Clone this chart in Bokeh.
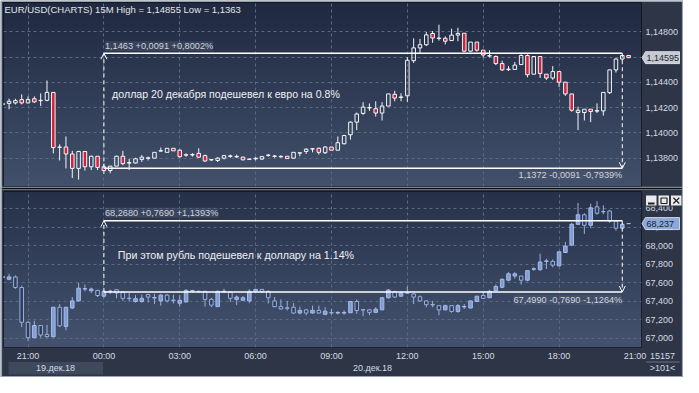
import numpy as np
from bokeh.plotting import figure
from bokeh.models import Range1d, FixedTicker, Label, Arrow, OpenHead, Grid, ColumnDataSource, GridBox
from bokeh.embed import file_html
from bokeh.resources import INLINE

# ---------------- data ----------------
bar_index = list(range(100))          # 15-minute bars, 0 = 19.12 20:00
time_ticks = [4, 16, 28, 40, 52, 64, 76, 88, 100]
time_labels = ["21:00", "00:00", "03:00", "06:00", "09:00", "12:00", "15:00", "18:00", "21:00"]
grid_ticks = [4, 16, 28, 40, 52, 64, 76, 88]
date_labels = ["19.дек.18", "20.дек.18"]

eur_ticks = [1.138, 1.140, 1.142, 1.144, 1.146, 1.148]
eur_tick_labels = ["1,13800", "1,14000", "1,14200", "1,14400", "1,14600", "1,14800"]
rub_ticks = [67.0, 67.2, 67.4, 67.6, 67.8, 68.0, 68.2, 68.4]
rub_tick_labels = ["67,000", "67,200", "67,400", "67,600", "67,800", "68,000", "68,200", "68,400"]

eur_open = [1.14225, 1.14233, 1.14237, 1.14263, 1.14237, 1.14270, 1.14255, 1.14257, 1.14320, 1.13886,
            1.13888, 1.13833, 1.13719, 1.13853, 1.13732, 1.13815, 1.13732, 1.13702, 1.13737, 1.13815,
            1.13765, 1.13762, 1.13790, 1.13799, 1.13800, 1.13856, 1.13846, 1.13878, 1.13863, 1.13827,
            1.13825, 1.13838, 1.13820, 1.13789, 1.13782, 1.13800, 1.13814, 1.13814, 1.13808, 1.13793,
            1.13795, 1.13793, 1.13822, 1.13817, 1.13814, 1.13815, 1.13800, 1.13840, 1.13853, 1.13872,
            1.13878, 1.13843, 1.13888, 1.13863, 1.13914, 1.13985, 1.14085, 1.14154, 1.14197, 1.14191,
            1.14157, 1.14212, 1.14305, 1.14284, 1.14293, 1.14571, 1.14672, 1.14697, 1.14786, 1.14746,
            1.14748, 1.14730, 1.14773, 1.14788, 1.14646, 1.14718, 1.14654, 1.14611, 1.14604, 1.14548,
            1.14504, 1.14502, 1.14540, 1.14612, 1.14464, 1.14604, 1.14464, 1.14434, 1.14485, 1.14401,
            1.14308, 1.14179, 1.14161, 1.14187, 1.14172, 1.14174, 1.14318, 1.14498, 1.14584, 1.14612]
eur_high = [1.14243, 1.14270, 1.14270, 1.14305, 1.14288, 1.14288, 1.14313, 1.14414, 1.14322, 1.13909,
            1.13972, 1.13858, 1.13858, 1.13853, 1.13820, 1.13815, 1.13757, 1.13737, 1.13820, 1.13858,
            1.13795, 1.13803, 1.13825, 1.13812, 1.13846, 1.13884, 1.13878, 1.13878, 1.13871, 1.13838,
            1.13840, 1.13878, 1.13828, 1.13793, 1.13808, 1.13825, 1.13828, 1.13828, 1.13812, 1.13795,
            1.13808, 1.13818, 1.13833, 1.13825, 1.13823, 1.13815, 1.13846, 1.13844, 1.13878, 1.13878,
            1.13884, 1.13896, 1.13888, 1.13972, 1.13985, 1.14091, 1.14161, 1.14243, 1.14233, 1.14250,
            1.14243, 1.14308, 1.14333, 1.14313, 1.14599, 1.14748, 1.14743, 1.14798, 1.14806, 1.14855,
            1.14763, 1.14824, 1.14831, 1.14788, 1.14718, 1.14718, 1.14654, 1.14654, 1.14612, 1.14571,
            1.14528, 1.14561, 1.14621, 1.14621, 1.14604, 1.14604, 1.14464, 1.14528, 1.14485, 1.14401,
            1.14308, 1.14207, 1.14187, 1.14187, 1.14233, 1.14320, 1.14502, 1.14591, 1.14616, 1.14612]
eur_low = [1.14212, 1.14187, 1.14225, 1.14225, 1.14233, 1.14237, 1.14212, 1.14250, 1.13838, 1.13782,
           1.13719, 1.13643, 1.13630, 1.13702, 1.13706, 1.13706, 1.13676, 1.13681, 1.13737, 1.13744,
           1.13706, 1.13757, 1.13770, 1.13782, 1.13800, 1.13853, 1.13846, 1.13858, 1.13803, 1.13812,
           1.13812, 1.13803, 1.13770, 1.13778, 1.13770, 1.13790, 1.13803, 1.13803, 1.13782, 1.13787,
           1.13782, 1.13787, 1.13812, 1.13803, 1.13803, 1.13797, 1.13795, 1.13815, 1.13833, 1.13846,
           1.13828, 1.13833, 1.13863, 1.13863, 1.13909, 1.13947, 1.14022, 1.14142, 1.14174, 1.14129,
           1.14098, 1.14212, 1.14250, 1.14250, 1.14245, 1.14553, 1.14629, 1.14687, 1.14712, 1.14730,
           1.14700, 1.14728, 1.14725, 1.14642, 1.14642, 1.14642, 1.14596, 1.14596, 1.14536, 1.14490,
           1.14490, 1.14498, 1.14540, 1.14439, 1.14464, 1.14434, 1.14419, 1.14419, 1.14364, 1.14293,
           1.14167, 1.14022, 1.14098, 1.14085, 1.14157, 1.14136, 1.14308, 1.14477, 1.14571, 1.14591]
eur_close = [1.14231, 1.14250, 1.14255, 1.14237, 1.14263, 1.14245, 1.14257, 1.14320, 1.13884, 1.13888,
             1.13833, 1.13719, 1.13853, 1.13732, 1.13815, 1.13727, 1.13702, 1.13737, 1.13815, 1.13757,
             1.13761, 1.13795, 1.13808, 1.13803, 1.13846, 1.13859, 1.13878, 1.13858, 1.13812, 1.13824,
             1.13829, 1.13808, 1.13778, 1.13786, 1.13800, 1.13820, 1.13818, 1.13810, 1.13787, 1.13790,
             1.13799, 1.13812, 1.13824, 1.13814, 1.13811, 1.13797, 1.13846, 1.13843, 1.13871, 1.13875,
             1.13846, 1.13888, 1.13863, 1.13922, 1.13979, 1.14085, 1.14149, 1.14204, 1.14201, 1.14157,
             1.14212, 1.14308, 1.14275, 1.14280, 1.14574, 1.14672, 1.14697, 1.14775, 1.14750, 1.14750,
             1.14725, 1.14773, 1.14786, 1.14646, 1.14718, 1.14654, 1.14616, 1.14607, 1.14548, 1.14498,
             1.14500, 1.14536, 1.14612, 1.14460, 1.14604, 1.14470, 1.14434, 1.14485, 1.14401, 1.14308,
             1.14179, 1.14161, 1.14187, 1.14169, 1.14176, 1.14320, 1.14498, 1.14584, 1.14612, 1.14595]

rub_open = [67.654, 67.636, 67.661, 67.547, 67.172, 67.006, 67.137, 67.041, 67.017, 67.334,
            67.127, 67.326, 67.403, 67.530, 67.512, 67.516, 67.454, 67.504, 67.523, 67.496,
            67.432, 67.396, 67.396, 67.471, 67.434, 67.403, 67.465, 67.411, 67.378, 67.392,
            67.509, 67.507, 67.506, 67.419, 67.341, 67.503, 67.496, 67.419, 67.409, 67.403,
            67.506, 67.527, 67.506, 67.403, 67.341, 67.328, 67.334, 67.272, 67.306, 67.272,
            67.300, 67.258, 67.277, 67.272, 67.272, 67.275, 67.396, 67.308, 67.306, 67.279,
            67.306, 67.437, 67.499, 67.454, 67.491, 67.478, 67.447, 67.403, 67.364, 67.351,
            67.306, 67.351, 67.289, 67.338, 67.326, 67.396, 67.461, 67.437, 67.512, 67.550,
            67.626, 67.671, 67.671, 67.626, 67.745, 67.739, 67.829, 67.829, 67.781, 67.925,
            68.005, 68.229, 68.332, 68.218, 68.418, 68.368, 68.373, 68.263, 68.187, 68.236]
rub_high = [67.674, 67.695, 67.677, 67.568, 67.179, 67.189, 67.137, 67.145, 67.334, 67.368,
            67.334, 67.444, 67.599, 67.581, 67.547, 67.523, 67.516, 67.523, 67.523, 67.506,
            67.488, 67.465, 67.471, 67.478, 67.478, 67.478, 67.478, 67.471, 67.465, 67.530,
            67.523, 67.512, 67.512, 67.437, 67.516, 67.533, 67.506, 67.461, 67.454, 67.530,
            67.533, 67.527, 67.516, 67.444, 67.419, 67.403, 67.378, 67.341, 67.316, 67.351,
            67.351, 67.334, 67.316, 67.292, 67.300, 67.403, 67.419, 67.313, 67.316, 67.334,
            67.437, 67.530, 67.512, 67.506, 67.558, 67.488, 67.461, 67.409, 67.403, 67.351,
            67.362, 67.351, 67.368, 67.368, 67.403, 67.454, 67.506, 67.523, 67.581, 67.643,
            67.713, 67.713, 67.671, 67.729, 67.764, 67.912, 67.857, 67.850, 67.936, 68.039,
            68.245, 68.459, 68.348, 68.452, 68.477, 68.435, 68.384, 68.270, 68.245, 68.238]
rub_low = [67.643, 67.626, 67.533, 67.120, 66.972, 67.006, 67.006, 67.006, 67.006, 67.120,
           67.086, 67.316, 67.396, 67.506, 67.488, 67.444, 67.437, 67.478, 67.430, 67.403,
           67.396, 67.385, 67.385, 67.385, 67.368, 67.351, 67.385, 67.375, 67.341, 67.385,
           67.496, 67.488, 67.341, 67.334, 67.341, 67.488, 67.392, 67.357, 67.403, 67.378,
           67.488, 67.488, 67.375, 67.334, 67.310, 67.300, 67.264, 67.258, 67.248, 67.264,
           67.264, 67.248, 67.254, 67.258, 67.254, 67.272, 67.264, 67.238, 67.248, 67.272,
           67.306, 67.427, 67.437, 67.444, 67.478, 67.368, 67.396, 67.334, 67.334, 67.248,
           67.300, 67.275, 67.275, 67.316, 67.323, 67.392, 67.430, 67.437, 67.506, 67.540,
           67.615, 67.643, 67.581, 67.615, 67.729, 67.729, 67.747, 67.764, 67.774, 67.919,
           67.994, 68.221, 68.125, 68.187, 68.332, 68.338, 68.245, 68.160, 68.177, 68.236]
rub_close = [67.664, 67.661, 67.547, 67.172, 67.006, 67.137, 67.034, 67.017, 67.334, 67.134,
             67.334, 67.403, 67.540, 67.535, 67.530, 67.461, 67.506, 67.509, 67.488, 67.430,
             67.427, 67.427, 67.430, 67.444, 67.439, 67.465, 67.403, 67.406, 67.409, 67.516,
             67.514, 67.503, 67.419, 67.357, 67.506, 67.507, 67.430, 67.444, 67.437, 67.506,
             67.527, 67.506, 67.437, 67.341, 67.316, 67.323, 67.272, 67.300, 67.272, 67.300,
             67.272, 67.292, 67.272, 67.277, 67.277, 67.396, 67.300, 67.303, 67.279, 67.313,
             67.437, 67.520, 67.444, 67.488, 67.486, 67.444, 67.403, 67.362, 67.359, 67.306,
             67.351, 67.289, 67.351, 67.342, 67.403, 67.454, 67.430, 67.506, 67.558, 67.636,
             67.695, 67.695, 67.626, 67.729, 67.749, 67.822, 67.834, 67.788, 67.932, 67.994,
             68.229, 68.332, 68.218, 68.407, 68.348, 68.364, 68.263, 68.187, 68.229, 68.237]

ruler_start, ruler_end = 16, 98
eur_ruler_high, eur_ruler_low = 1.1463, 1.1372
rub_ruler_high, rub_ruler_low = 68.268, 67.499
eur_up_text = "1,1463 +0,0091 +0,8002%"
eur_dn_text = "1,1372 -0,0091 -0,7939%"
rub_up_text = "68,2680 +0,7690 +1,1393%"
rub_dn_text = "67,4990 -0,7690 -1,1264%"
eur_title = "EUR/USD(CHARTS) 15M High = 1,14855 Low = 1,1363"
eur_note = "доллар 20 декабря подешевел к евро на 0.8%"
rub_note = "При этом рубль подешевел к доллару на 1.14%"
eur_last_text = "1,14595"
rub_last_text = "68,237"
bar_count_text = "15157"
visible_count_text = ">101<"

# ---------------- geometry / style ----------------
FONT = "Liberation Sans"
BORDER = "#2d3547"
TXT = "#d6dae2"
W = 683
H_TOP, H_BOT = 189, 188
H_ALL = H_TOP + H_BOT
FRAME_L = 3
FRAME_W = 638
FRAME_R = FRAME_L + FRAME_W
FRAME_H_TOP, FRAME_H_BOT = 184, 156
X0, X1 = 0.12, 101.04
EUR_Y = (1.13576, 1.15031)
RUB_Y = (66.900, 68.583)


def add_gradient(p, top_rgb, bottom_rgb, rows=200):
    t = np.linspace(0.0, 1.0, rows)
    img = np.zeros((rows, 2), dtype=np.uint32)
    v = img.view(dtype=np.uint8).reshape((rows, 2, 4))
    for k in range(3):
        v[:, :, k] = np.round(bottom_rgb[k] + (top_rgb[k] - bottom_rgb[k]) * t)[:, None].astype(np.uint8)
    v[:, :, 3] = 255
    xr, yr = p.x_range, p.y_range
    p.image_rgba(image=[img], x=xr.start, y=yr.start, dw=xr.end - xr.start,
                 dh=yr.end - yr.start, level="image")


def make_fig(height, yr, bottom_border, with_xaxis):
    p = figure(width=W, height=height, x_range=Range1d(X0, X1), y_range=Range1d(*yr),
               output_backend="svg", toolbar_location=None, sizing_mode="fixed",
               x_axis_location="below" if with_xaxis else None, y_axis_location="right",
               min_border_left=FRAME_L, min_border_right=W - FRAME_R,
               min_border_top=2, min_border_bottom=bottom_border)
    p.border_fill_color = BORDER
    p.background_fill_color = "#34405a"
    p.outline_line_color = "#0d1016"
    p.outline_line_width = 1
    p.grid.visible = False
    p.add_layout(Grid(dimension=0, ticker=FixedTicker(ticks=grid_ticks), grid_line_color="#5b6985",
                      grid_line_dash="3 3", grid_line_width=1))
    return p


def style_axis(ax, standoff):
    ax.axis_line_color = None
    ax.major_tick_line_color = None
    ax.minor_tick_line_color = None
    ax.major_tick_out = 0
    ax.major_tick_in = 0
    ax.minor_tick_out = 0
    ax.minor_tick_in = 0
    ax.major_label_standoff = standoff
    ax.major_label_text_color = TXT
    ax.major_label_text_font = FONT
    ax.major_label_text_font_size = "9px"


def style_yaxis(p, ticks, labels):
    ax = p.yaxis[0]
    ax.ticker = FixedTicker(ticks=ticks)
    ax.major_label_overrides = dict(zip(ticks, labels))
    style_axis(ax, 4)
    p.add_layout(Grid(dimension=1, ticker=FixedTicker(ticks=ticks), grid_line_color="#5b6985",
                      grid_line_dash="3 3", grid_line_width=1))


def draw_candles(p, o, h, l, c, up_fill, up_line, dn_fill, dn_line, wick_color, width=0.56):
    top = [max(a, b) for a, b in zip(o, c)]
    bot = [min(a, b) for a, b in zip(o, c)]
    src = ColumnDataSource(dict(x=bar_index, h=h, l=l, top=top, bot=bot))
    p.segment(x0="x", y0="h", x1="x", y1="top", source=src, line_color=wick_color, line_width=1)
    p.segment(x0="x", y0="bot", x1="x", y1="l", source=src, line_color=wick_color, line_width=1)
    up = [i for i in bar_index if c[i] >= o[i]]
    dn = [i for i in bar_index if c[i] < o[i]]
    for sel, fc, lc in ((up, up_fill, up_line), (dn, dn_fill, dn_line)):
        p.vbar(x=[bar_index[i] for i in sel], top=[top[i] for i in sel], bottom=[bot[i] for i in sel],
               width=width, fill_color=fc, fill_alpha=1.0 if fc else 0.0, line_color=lc, line_width=1)


def draw_ruler(p, hi, lo, up_text, dn_text, up_off, dn_off):
    p.segment(x0=[ruler_start, ruler_start], y0=[hi, lo], x1=[ruler_end, ruler_end], y1=[hi, lo],
              line_color="white", line_width=1.4)
    p.add_layout(Arrow(x_start=ruler_start, y_start=lo, x_end=ruler_start, y_end=hi,
                       line_color="white", line_width=1, line_dash="4 3",
                       end=OpenHead(size=6, line_color="white", line_width=1)))
    p.add_layout(Arrow(x_start=ruler_end, y_start=hi, x_end=ruler_end, y_end=lo,
                       line_color="white", line_width=1, line_dash="4 3",
                       end=OpenHead(size=6, line_color="white", line_width=1)))
    p.add_layout(Label(x=ruler_start, y=hi, x_offset=1, y_offset=up_off, text=up_text,
                       text_baseline="bottom", text_align="left", text_color="#cfd3db",
                       text_font=FONT, text_font_size="9.2px",
                       background_fill_color="#4d5970", background_fill_alpha=0.45))
    p.add_layout(Label(x=ruler_end, y=lo, x_offset=0, y_offset=dn_off, text=dn_text,
                       text_baseline="top", text_align="right", text_color="#cfd3db",
                       text_font=FONT, text_font_size="9.2px",
                       background_fill_color="#4d5970", background_fill_alpha=0.45))


# ---------------- top panel: EUR/USD ----------------
p1 = make_fig(H_TOP, EUR_Y, 3, False)
add_gradient(p1, (31, 41, 64), (66, 80, 107))
style_yaxis(p1, eur_ticks, eur_tick_labels)
draw_candles(p1, eur_open, eur_high, eur_low, eur_close,
             None, "#f4f6fa", "#d3203b", "#f4f6fa", "#f4f6fa")
draw_ruler(p1, eur_ruler_high, eur_ruler_low, eur_up_text, eur_dn_text, 2, -2)
p1.add_layout(Label(x=1, y=FRAME_H_TOP - 1, x_units="screen", y_units="screen", text=eur_title,
                    text_baseline="top", text_color="#e2e5ea", text_font=FONT, text_font_size="9.5px"))
p1.add_layout(Label(x=17.3, y=1.14306, text=eur_note, text_baseline="middle", text_color="#eef0f4",
                    text_font=FONT, text_font_size="10.6px"))

# ---------------- bottom panel: USD/RUB ----------------
p2 = make_fig(H_BOT, RUB_Y, H_BOT - 2 - FRAME_H_BOT, True)
add_gradient(p2, (38, 49, 73), (68, 82, 110))
style_yaxis(p2, rub_ticks, rub_tick_labels)
xa = p2.xaxis[0]
xa.ticker = FixedTicker(ticks=time_ticks)
xa.major_label_overrides = dict(zip(time_ticks, time_labels))
style_axis(xa, 3)

draw_candles(p2, rub_open, rub_high, rub_low, rub_close,
             "#7f9dd3", "#a7bde8", "#2f3c59", "#98b0df", "#98b0df")
draw_ruler(p2, rub_ruler_high, rub_ruler_low, rub_up_text, rub_dn_text, 3, -3)
p2.add_layout(Label(x=18.2, y=67.894, text=rub_note, text_baseline="middle", text_color="#eef0f4",
                    text_font=FONT, text_font_size="10.7px"))

# ---------------- overlay for items outside the plot frames (page pixel coords) ----------------
ov = figure(width=W, height=H_ALL, x_range=Range1d(0, W), y_range=Range1d(H_ALL, 0),
            output_backend="svg", toolbar_location=None, x_axis_location=None, y_axis_location=None,
            min_border=0, sizing_mode="fixed")
if "frame_align" in ov.properties():
    ov.frame_align = False
ov.title.visible = False
ov.background_fill_alpha = 0
ov.border_fill_alpha = 0
ov.outline_line_color = None
ov.grid.visible = False


def eur_px(price):
    return 2 + (EUR_Y[1] - price) / (EUR_Y[1] - EUR_Y[0]) * FRAME_H_TOP


def rub_px(price):
    return H_TOP + 2 + (RUB_Y[1] - price) / (RUB_Y[1] - RUB_Y[0]) * FRAME_H_BOT


def price_tag(yc, text, fill, text_color):
    ov.patch(x=[FRAME_R + 0.5, FRAME_R + 4, W - 4, W - 4, FRAME_R + 4],
             y=[yc, yc - 6, yc - 6, yc + 6, yc + 6], fill_color=fill, line_color="#e8ebf0",
             line_width=0.8)
    ov.add_layout(Label(x=FRAME_R + 5, y=yc, text=text, text_baseline="middle", text_align="left",
                        text_color=text_color, text_font=FONT, text_font_size="9px"))


price_tag(eur_px(eur_close[-1]), eur_last_text, "#c6cad2", "#1f2531")
price_tag(rub_px(rub_close[-1]), rub_last_text, "#8ca8d8", "#18223a")

# date row
row_y = 367.2
ov.quad(left=8, right=102.5, top=361.5, bottom=374, fill_color="#3f495e", line_color=None)
ov.add_layout(Label(x=55, y=row_y, text=date_labels[0], text_align="center", text_baseline="middle",
                    text_color=TXT, text_font=FONT, text_font_size="9px"))
ov.add_layout(Label(x=372, y=row_y, text=date_labels[1], text_align="center", text_baseline="middle",
                    text_color=TXT, text_font=FONT, text_font_size="9px"))
# corner counters
ov.add_layout(Label(x=662, y=355.8, text=bar_count_text, text_align="center", text_baseline="middle",
                    text_color=TXT, text_font=FONT, text_font_size="9px"))
ov.add_layout(Label(x=662, y=row_y, text=visible_count_text, text_align="center", text_baseline="middle",
                    text_color=TXT, text_font=FONT, text_font_size="9px"))
ov.segment(x0=[646], y0=[361.5], x1=[679], y1=[361.5], line_color="#6a7386", line_width=1)
# window buttons (minimise / maximise / close)
ov.quad(left=[645, 657.5, 670], right=[656.5, 669, 681.5], top=[194.5, 194.5, 194.5],
        bottom=[205.5, 205.5, 205.5], fill_color="#e9ebef", line_color="#30343c", line_width=1)
ov.segment(x0=[647.5], y0=[203], x1=[654], y1=[203], line_color="#202020", line_width=2)
ov.quad(left=[660.5], right=[666.5], top=[197.5], bottom=[203], fill_alpha=0,
        line_color="#202020", line_width=1.2)
ov.segment(x0=[672.8, 678.8], y0=[197.3, 197.3], x1=[678.8, 672.8], y1=[203, 203],
           line_color="#202020", line_width=1.2)
# outer frame and panel separator
ov.segment(x0=[0, 0], y0=[186.8, 188.3], x1=[W, W], y1=[186.8, 188.3],
           line_color=["#8e97a8", "#0b0e13"], line_width=[1, 1.6])
ov.quad(left=[0.8], right=[W - 0.8], top=[0.8], bottom=[H_ALL - 0.8], fill_alpha=0,
        line_color="#9aa3b3", line_width=1.6)

layout = GridBox(children=[(p1, 0, 0), (p2, 1, 0), (ov, 0, 0, 2, 1)],
                 rows=["%dpx" % H_TOP, "%dpx" % H_BOT], cols=["%dpx" % W], spacing=0,
                 width=W, height=H_ALL, sizing_mode="fixed")
open("out.html", "w").write(file_html(layout, INLINE))
